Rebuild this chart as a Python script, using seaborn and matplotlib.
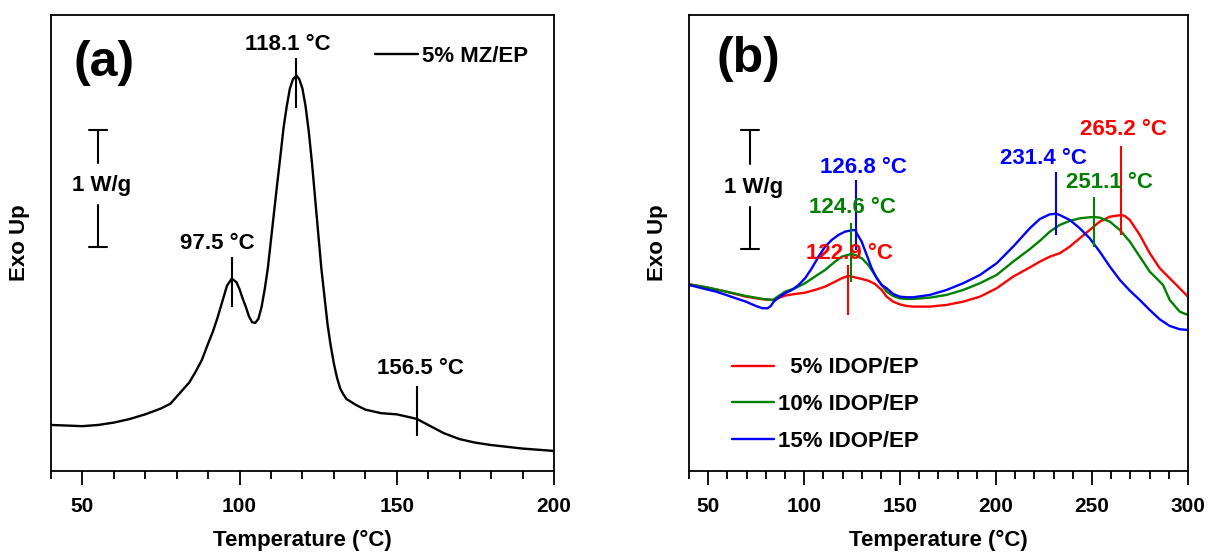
import numpy as np
import pandas as pd
import matplotlib
matplotlib.use("Agg")
import matplotlib.pyplot as plt
from matplotlib.ticker import MultipleLocator
import seaborn as sns

# ---------------- data ----------------
# (a) DSC trace of 5% MZ/EP, heat flow in W/g (relative offset)
temp_mz = [40, 50, 55, 60, 65, 70, 72, 75, 78, 80, 82, 84, 86, 88, 90, 91.5, 93, 95, 96,
           97.5, 99, 100, 101, 102, 103, 104, 105, 106, 107, 108, 109, 110, 111, 112,
           113, 114, 115, 116, 117, 118.1, 119, 120, 121, 122, 123, 124, 125, 126, 127,
           128, 129, 130, 131, 132, 133, 134, 137, 140, 145, 150, 155, 156.5, 160, 165,
           170, 175, 180, 190, 200]
heat_mz = [0.39, 0.38, 0.39, 0.41, 0.44, 0.48, 0.50, 0.53, 0.57, 0.63, 0.69, 0.75, 0.84, 0.94, 1.08, 1.18, 1.30, 1.48, 1.57,
           1.63, 1.60, 1.54, 1.46, 1.39, 1.31, 1.26, 1.255, 1.29, 1.39, 1.54, 1.72, 1.96, 2.20, 2.44,
           2.67, 2.91, 3.09, 3.24, 3.32, 3.35, 3.32, 3.24, 3.09, 2.88, 2.62, 2.32, 2.02, 1.72, 1.48,
           1.24, 1.06, 0.91, 0.79, 0.70, 0.65, 0.61, 0.56, 0.52, 0.49, 0.48, 0.45, 0.44, 0.39, 0.32,
           0.27, 0.24, 0.22, 0.19, 0.17]

# (b) DSC traces of IDOP/EP, heat flow in W/g (relative offset)
temp_5 = [40, 48.9, 59.3, 69.7, 78.4, 83.6, 86.2, 90.1, 95.2, 100.5, 105.6, 110.9, 116.1,
          119.6, 122.9, 126.5, 130, 133.4, 136.9, 140.4, 143, 146.4, 149.9, 153.4, 156.8,
          165.5, 174.2, 182.9, 191.6, 200.3, 208.9, 217.6, 222.8, 228, 233.2, 238.4,
          243.6, 248.8, 254, 259.3, 265.2, 267.1, 269.7, 274.9, 280.1, 285.3, 290.5,
          295.7, 300]
heat_5 = [1.582, 1.557, 1.520, 1.477, 1.455, 1.449, 1.463, 1.486, 1.500, 1.511, 1.534, 1.562, 1.604,
          1.633, 1.653, 1.641, 1.627, 1.613, 1.585, 1.534, 1.477, 1.435, 1.412, 1.398, 1.393,
          1.393, 1.407, 1.435, 1.477, 1.548, 1.647, 1.725, 1.774, 1.816, 1.845, 1.901,
          1.972, 2.042, 2.113, 2.155, 2.169, 2.161, 2.127, 2.000, 1.845, 1.718, 1.633,
          1.548, 1.477]

temp_10 = [40, 48.9, 59.3, 69.7, 78.4, 83.6, 86.2, 90.1, 95.2, 100.5, 105.6, 110.9, 116.1,
           119.6, 124.6, 126.5, 130, 133.4, 136.9, 140.4, 143, 146.4, 149.9, 153.4, 156.8,
           165.5, 174.2, 182.9, 191.6, 200.3, 208.9, 217.6, 222.8, 228, 233.2, 238.4,
           243.6, 248.8, 251.1, 254, 259.3, 264.5, 269.7, 274.9, 280.1, 283.6, 287,
           290.5, 295.7, 300]
heat_10 = [1.582, 1.557, 1.520, 1.483, 1.458, 1.449, 1.477, 1.520, 1.548, 1.591, 1.647, 1.703, 1.774,
           1.816, 1.839, 1.831, 1.803, 1.746, 1.661, 1.576, 1.520, 1.483, 1.463, 1.458, 1.458,
           1.469, 1.492, 1.534, 1.591, 1.661, 1.774, 1.880, 1.950, 2.028, 2.085, 2.119,
           2.141, 2.150, 2.152, 2.147, 2.113, 2.042, 1.944, 1.816, 1.689, 1.633, 1.576,
           1.449, 1.350, 1.322]

temp_15 = [40, 43.6, 48.9, 54.1, 59.3, 64.5, 69.7, 74.9, 78.4, 81, 82.6, 84.2, 86.8, 90.1,
           93.6, 97.1, 100.5, 104, 107.5, 110.9, 114.4, 117.9, 121.3, 124.8, 126.8, 127.4,
           130, 132.6, 135.2, 137.8, 140.4, 143, 146.4, 149.9, 153.4, 156.8, 165.5, 174.2,
           182.9, 191.6, 200.3, 208.9, 217.6, 222.8, 228, 231.4, 233.2, 238.4, 243.6,
           248.8, 254, 259.3, 264.5, 269.7, 274.9, 280.1, 285.3, 290.5, 295.7, 300]
heat_15 = [1.576, 1.562, 1.540, 1.520, 1.492, 1.463, 1.435, 1.398, 1.379, 1.379, 1.398, 1.435, 1.472, 1.506,
           1.534, 1.576, 1.633, 1.718, 1.816, 1.901, 1.958, 2.000, 2.028, 2.040, 2.042, 2.014,
           1.943, 1.831, 1.718, 1.633, 1.576, 1.548, 1.500, 1.477, 1.472, 1.472, 1.492, 1.534,
           1.591, 1.661, 1.760, 1.901, 2.057, 2.135, 2.175, 2.180, 2.169, 2.127, 2.057,
           1.972, 1.859, 1.732, 1.619, 1.528, 1.449, 1.364, 1.285, 1.229, 1.201, 1.195]

series_names = ["  5% IDOP/EP", "10% IDOP/EP", "15% IDOP/EP"]
series_colors = ["#ff0000", "#008000", "#0000ff"]
peaks_low = [122.9, 124.6, 126.8]
peaks_high = [265.2, 251.1, 231.4]

# ---------------- style ----------------
sns.set_theme(style="white")
plt.rcParams["font.family"] = ["Liberation Sans", "DejaVu Sans"]
plt.rcParams["font.weight"] = "bold"
plt.rcParams["axes.labelweight"] = "bold"
plt.rcParams["axes.linewidth"] = 1.3
plt.rcParams["text.color"] = "black"
plt.rcParams["axes.labelcolor"] = "black"
plt.rcParams["xtick.color"] = "black"
plt.rcParams["axes.edgecolor"] = "black"

FS_TICK = 15
FS = 16
fig = plt.figure(figsize=(12.1, 5.53), dpi=100)
ax_a = fig.add_axes([0.0421, 0.1483, 0.4157, 0.8246])
ax_b = fig.add_axes([0.5694, 0.1483, 0.4124, 0.8246])


def style_axis(ax, xmax):
    ax.set_xlim(40, xmax)
    ax.set_ylim(0, 3.864)
    ax.xaxis.set_major_locator(MultipleLocator(50))
    ax.xaxis.set_minor_locator(MultipleLocator(10))
    ax.set_yticks([])
    ax.tick_params(axis="x", which="major", direction="out", length=10, width=1.3,
                   bottom=True, pad=8.5, labelsize=FS_TICK, colors="black")
    ax.tick_params(axis="x", which="minor", direction="out", length=5.5, width=1.3,
                   bottom=True)
    for lab in ax.get_xticklabels():
        lab.set_fontweight("bold")
    for sp in ax.spines.values():
        sp.set_color("black")
        sp.set_linewidth(1.3)
    ax.set_xlabel("Temperature (°C)", fontsize=FS, fontweight="bold", labelpad=10)
    ax.set_ylabel("Exo Up", fontsize=FS, fontweight="bold", labelpad=15)


def scale_bar(ax, x, xt, y0, y1, gap0, gap1, ytext, cap):
    ax.plot([x, x], [gap1, y1], color="black", lw=1.5)
    ax.plot([x, x], [y0, gap0], color="black", lw=1.5)
    ax.plot([x - cap, x + cap], [y1, y1], color="black", lw=1.5)
    ax.plot([x - cap, x + cap], [y0, y0], color="black", lw=1.5)
    ax.text(xt, ytext, "1 W/g", fontsize=FS, fontweight="bold", ha="center", va="center")


# ---------------- panel (a) ----------------
df_a = pd.DataFrame({"Temperature": temp_mz, "Heat flow": heat_mz, "Sample": "5% MZ/EP"})
sns.lineplot(data=df_a, x="Temperature", y="Heat flow", hue="Sample", palette=["black"],
             lw=1.7, ax=ax_a)
style_axis(ax_a, 200)
ax_a.legend(loc="center left", bbox_to_anchor=(0.645, 0.909), frameon=False,
            fontsize=FS, handlelength=1.94, handletextpad=0.18, borderpad=0, borderaxespad=0)

marks_a = [(3.08, 3.50), (1.39, 1.81), (0.30, 0.72)]
text_a = [(115.4, 3.61), (92.9, 1.93), (157.5, 0.87)]
for p, (y0, y1), (tx, ty) in zip([118.1, 97.5, 156.5], marks_a, text_a):
    ax_a.vlines(p, y0, y1, color="black", lw=1.5)
    ax_a.text(tx, ty, f"{p} °C", fontsize=FS, fontweight="bold", ha="center", va="center")

ax_a.text(56.8, 3.46, "(a)", fontsize=36, fontweight="bold", ha="center", va="center")
scale_bar(ax_a, 54.9, 56.2, 1.90, 2.89, 2.25, 2.61, 2.415, 2.9)

# ---------------- panel (b) ----------------
df_b = pd.concat([
    pd.DataFrame({"Temperature": temp_5, "Heat flow": heat_5, "Sample": series_names[0]}),
    pd.DataFrame({"Temperature": temp_10, "Heat flow": heat_10, "Sample": series_names[1]}),
    pd.DataFrame({"Temperature": temp_15, "Heat flow": heat_15, "Sample": series_names[2]}),
])
sns.lineplot(data=df_b, x="Temperature", y="Heat flow", hue="Sample",
             palette=series_colors, lw=1.7, ax=ax_b)
style_axis(ax_b, 300)
ax_b.legend(loc="upper left", bbox_to_anchor=(0.0866, 0.249), frameon=False,
            fontsize=FS, handlelength=1.9, handletextpad=0.18, labelspacing=0.71,
            borderpad=0, borderaxespad=0)

# low-temperature peak markers
marks_low = [(1.322, 1.746), (1.604, 2.104), (1.873, 2.466)]
text_low = [(123.5, 1.839), (125.3, 2.234), (131.1, 2.572)]
for p, c, (y0, y1) in zip(peaks_low, series_colors, marks_low):
    ax_b.vlines(p, y0, y1, color=c, lw=1.5)
for p, c, (tx, ty) in zip(peaks_low, series_colors, text_low):
    ax_b.text(tx, ty, f"{p} °C", fontsize=FS, fontweight="bold", color=c,
              ha="center", va="center")

# high-temperature peak markers
marks_high = [(2.0, 2.754), (1.901, 2.319), (2.0, 2.536)]
text_high = [(266.4, 2.896), (258.9, 2.443), (224.7, 2.647)]
for p, c, (y0, y1), (tx, ty) in zip(peaks_high, series_colors, marks_high, text_high):
    ax_b.vlines(p, y0, y1, color=c, lw=1.5)
    ax_b.text(tx, ty, f"{p} °C", fontsize=FS, fontweight="bold", color=c,
              ha="center", va="center")

ax_b.text(70.8, 3.49, "(b)", fontsize=36, fontweight="bold", ha="center", va="center")
scale_bar(ax_b, 71.8, 73.7, 1.88, 2.89, 2.24, 2.60, 2.40, 4.7)

fig.savefig("out.png", dpi=100)
